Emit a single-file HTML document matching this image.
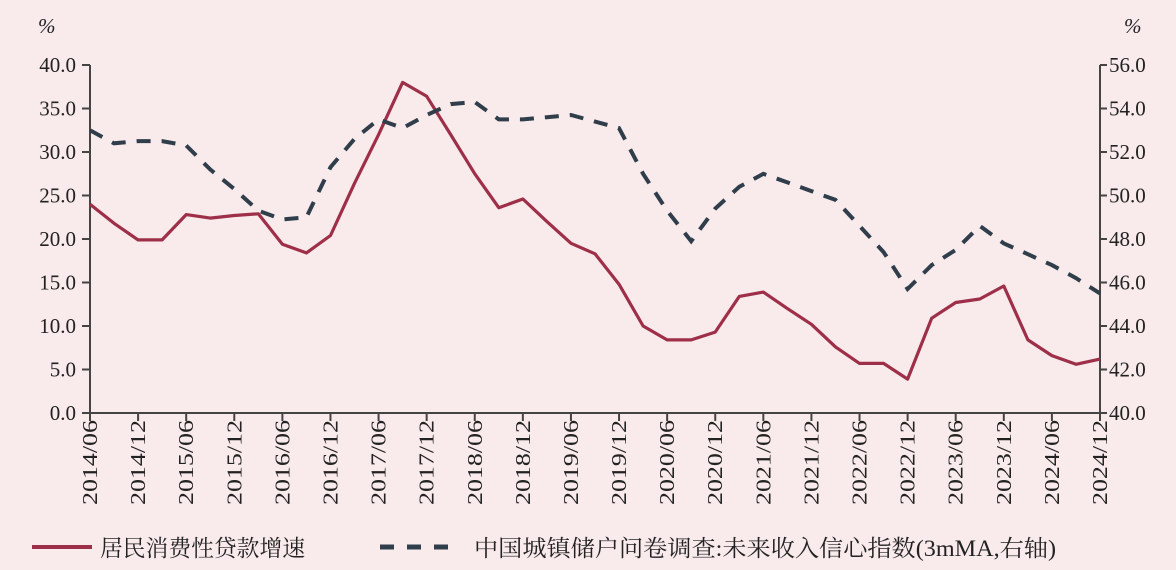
<!DOCTYPE html>
<html><head><meta charset="utf-8"><style>
html,body{margin:0;padding:0;background:#f9eaeb;}
svg{display:block;}
text{font-family:"Liberation Serif","Noto Serif CJK SC",serif;fill:#222;}
</style></head><body>
<svg width="1176" height="570" viewBox="0 0 1176 570" xmlns="http://www.w3.org/2000/svg">
<rect width="1176" height="570" fill="#f9eaeb"/>
<g id="axes" stroke="#444" stroke-width="2" fill="none"></g>
<g id="lbl"></g>
<polyline id="red" fill="none" stroke="#9e2f48" stroke-width="3.2" stroke-linejoin="round"/>
<polyline id="dash" fill="none" stroke="#2f3e4a" stroke-width="4" stroke-dasharray="14,11"/>
<text x="38" y="33" font-size="21" font-style="italic">%</text>
<text x="1124" y="33" font-size="21" font-style="italic">%</text>
<line x1="32" y1="547" x2="92" y2="547" stroke="#9e2f48" stroke-width="4"/>
<text x="100" y="556" font-size="23" textLength="205" lengthAdjust="spacingAndGlyphs">居民消费性贷款增速</text>
<line x1="380" y1="547" x2="460" y2="547" stroke="#2f3e4a" stroke-width="5" stroke-dasharray="14,13"/>
<text x="474" y="556" font-size="23" textLength="582" lengthAdjust="spacingAndGlyphs">中国城镇储户问卷调查:未来收入信心指数(3mMA,右轴)</text>
</svg>
<script>
const NS="http://www.w3.org/2000/svg";
const x0=90,x1=1100,yT=65,yB=413,n=42,dx=(x1-x0)/n;
const red=[24.0,21.8,19.9,19.9,22.8,22.4,22.7,22.9,19.4,18.4,20.4,26.4,32.0,38.0,36.4,32.0,27.5,23.6,24.6,22.0,19.5,18.3,14.8,10.0,8.4,8.4,9.3,13.4,13.9,12.0,10.2,7.6,5.7,5.7,3.9,10.9,12.7,13.1,14.6,8.4,6.6,5.6,6.2];
const ds=[53.0,52.4,52.5,52.5,52.3,51.2,50.3,49.3,48.9,49.0,51.3,52.6,53.5,53.1,53.7,54.2,54.3,53.5,53.5,53.6,53.7,53.4,53.1,51.0,49.3,47.9,49.4,50.4,51.0,50.6,50.2,49.8,48.6,47.4,45.7,46.8,47.5,48.6,47.8,47.3,46.8,46.2,45.5];
const yl=v=>yB-(v/40)*(yB-yT), yr=v=>yB-((v-40)/16)*(yB-yT);
document.getElementById('red').setAttribute('points',red.map((v,i)=>(x0+i*dx).toFixed(1)+','+yl(v).toFixed(1)).join(' '));
document.getElementById('dash').setAttribute('points',ds.map((v,i)=>(x0+i*dx).toFixed(1)+','+yr(v).toFixed(1)).join(' '));
const ax=document.getElementById('axes'),lb=document.getElementById('lbl');
function L(a,b,c,d){const l=document.createElementNS(NS,'line');l.setAttribute('x1',a);l.setAttribute('y1',b);l.setAttribute('x2',c);l.setAttribute('y2',d);ax.appendChild(l);}
function T(x,y,s,anchor,rot){const t=document.createElementNS(NS,'text');t.setAttribute('x',x);t.setAttribute('y',y);t.setAttribute('font-size','21');t.setAttribute('text-anchor',anchor);if(rot)t.setAttribute('transform',rot);t.textContent=s;lb.appendChild(t);return t;}
L(x0,yT,x0,yB+1);L(x1,yT,x1,yB+1);L(x0-8,yB,x1,yB);
for(let i=0;i<=8;i++){const y=yB-i*(yB-yT)/8;L(x0-8,y,x0,y);L(x1,y,x1+7,y);
T(x0-14,y+7,(i*5).toFixed(1),'end');T(x1+9,y+7,(40+i*2).toFixed(1),'start');}
for(let k=0;k<=21;k++){const x=x0+k*2*dx;L(x,yB,x,yB+8);
const m=k%2?'12':'06';const yy=2014+Math.floor(k/2);
const t=T(x+7,420,yy+'/'+m,'end','rotate(-90 '+(x+7)+' 420)');t.setAttribute('textLength','85');t.setAttribute('lengthAdjust','spacingAndGlyphs');}
</script>
</body></html>
